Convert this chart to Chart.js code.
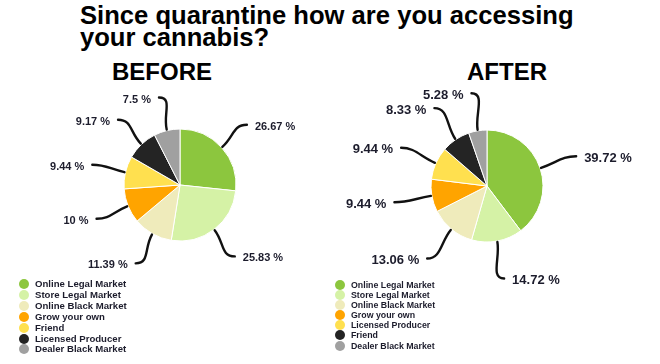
<!DOCTYPE html>
<html lang="en">
<head>
  <meta charset="UTF-8">
  <title>Since quarantine how are you accessing your cannabis?</title>
  <script src="https://cdn.jsdelivr.net/npm/chart.js"></script>
  <style>
    body { margin: 0; width: 660px; height: 364px; background: #fff; position: relative; overflow: hidden; font-family: "Liberation Sans", Arial, sans-serif; }
    #title { position: absolute; left: 80px; top: 4px; font-size: 25.6px; font-weight: bold; line-height: 22px; color: #000; }
    .head { position: absolute; top: 58px; font-size: 24px; font-weight: bold; color: #000; width: 160px; text-align: center; }
    canvas { position: absolute; }
    .legend { position: absolute; font-weight: bold; color: #1c1c2c; }
    .legend div { position: relative; white-space: nowrap; }
    .legend span { position: absolute; border-radius: 50%; }
  </style>
</head>
<body>
  <div id="title">Since quarantine how are you accessing<br>your cannabis?</div>
  <div class="head" style="left:82px">BEFORE</div>
  <div class="head" style="left:427px">AFTER</div>

  <canvas id="beforeChart" width="320" height="220" style="left:20px; top:75px"></canvas>
  <canvas id="afterChart" width="320" height="220" style="left:327px; top:76px"></canvas>

  <div id="beforeLegend" class="legend" style="left:35px; top:279px; font-size:9.6px; line-height:10.9px"></div>
  <div id="afterLegend" class="legend" style="left:351px; top:280px; font-size:8.8px; line-height:10.1px"></div>

<script>
  // Données
  const beforeLabels = ['Online Legal Market', 'Store Legal Market', 'Online Black Market', 'Grow your own', 'Friend', 'Licensed Producer', 'Dealer Black Market'];
  const beforeValues = [26.67, 25.83, 11.39, 10, 9.44, 9.17, 7.5];
  const beforeColors = ['#8cc63e', '#d5f2a6', '#efebbb', '#ffa400', '#ffe04f', '#242424', '#a0a0a0'];

  const afterLabels = ['Online Legal Market', 'Store Legal Market', 'Online Black Market', 'Grow your own', 'Licensed Producer', 'Friend', 'Dealer Black Market'];
  const afterValues = [39.72, 14.72, 13.06, 9.44, 9.44, 8.33, 5.28];
  const afterColors = ['#8cc63e', '#d5f2a6', '#efebbb', '#ffa400', '#ffe04f', '#242424', '#a0a0a0'];

  // étiquettes avec traits courbes
  const leaderLabels = {
    id: 'leaderLabels',
    afterDatasetsDraw(chart, args, opts) {
      const ctx = chart.ctx;
      const meta = chart.getDatasetMeta(0);
      const values = chart.data.datasets[0].data;
      ctx.save();
      ctx.font = 'bold ' + opts.fontSize + 'px "Liberation Sans", Arial, sans-serif';
      ctx.fillStyle = '#1c1c2c';
      ctx.strokeStyle = '#111';
      ctx.lineWidth = 2.4;
      ctx.lineCap = 'round';
      meta.data.forEach((arc, i) => {
        const p = arc.getProps(['x', 'y', 'startAngle', 'endAngle', 'outerRadius'], true);
        const mid = (p.startAngle + p.endAngle) / 2;
        const dx = Math.cos(mid), dy = Math.sin(mid);
        const x0 = p.x + dx * (p.outerRadius + 1), y0 = p.y + dy * (p.outerRadius + 1);
        const x3 = p.x + dx * (p.outerRadius + opts.extra), y3 = p.y + dy * (p.outerRadius + opts.extra);
        const side = x3 >= p.x ? 1 : -1;
        ctx.beginPath();
        ctx.moveTo(x0, y0);
        ctx.bezierCurveTo(x0 + dx * 16, y0 + dy * 16, x3 - side * 14, y3, x3, y3);
        ctx.stroke();
        ctx.textAlign = side > 0 ? 'left' : 'right';
        ctx.textBaseline = 'middle';
        ctx.fillText(values[i] + ' %', x3 + side * 8, y3 + 2);
      });
      ctx.restore();
    }
  };

  function makePie(id, labels, values, colors, fontSize, extra) {
    return new Chart(document.getElementById(id), {
      type: 'pie',
      data: {
        labels: labels,
        datasets: [{
          data: values,
          backgroundColor: colors,
          borderColor: '#ffffff',
          borderWidth: 1,
          radius: 56
        }]
      },
      options: {
        responsive: false,
        animation: false,
        layout: { padding: 0 },
        plugins: {
          legend: { display: false },
          tooltip: { enabled: false },
          leaderLabels: { fontSize: fontSize, extra: extra }
        }
      },
      plugins: [leaderLabels]
    });
  }

  function makeLegend(id, labels, colors, dot, offX) {
    const el = document.getElementById(id);
    labels.forEach((lab, i) => {
      const row = document.createElement('div');
      const s = document.createElement('span');
      s.style.width = dot + 'px';
      s.style.height = dot + 'px';
      s.style.left = offX + 'px';
      s.style.top = '0px';
      s.style.background = colors[i];
      row.appendChild(s);
      row.appendChild(document.createTextNode(lab));
      el.appendChild(row);
    });
  }

  makePie('beforeChart', beforeLabels, beforeValues, beforeColors, 11, 34);
  makePie('afterChart', afterLabels, afterValues, afterColors, 13, 38);
  makeLegend('beforeLegend', beforeLabels, beforeColors, 10, -16);
  makeLegend('afterLegend', afterLabels, afterColors, 10, -16);
</script>
</body>
</html>
